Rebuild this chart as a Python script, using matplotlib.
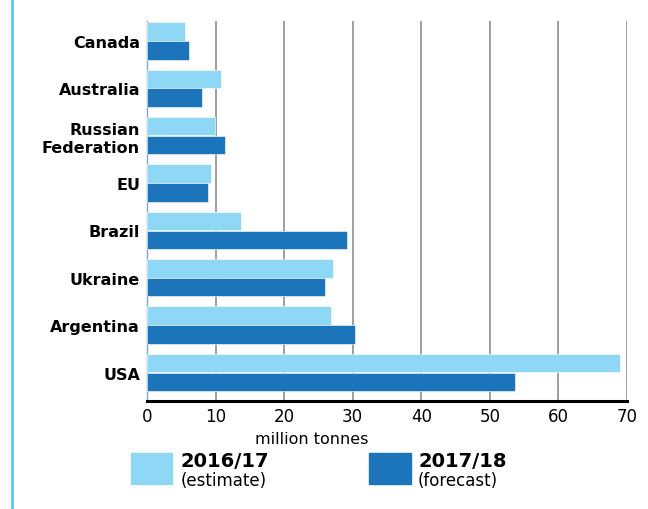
import numpy as np
import matplotlib.pyplot as plt
from matplotlib.patches import Rectangle
from matplotlib.lines import Line2D

pays = ["Canada", "Australia", "Russian\nFederation", "EU", "Brazil", "Ukraine", "Argentina", "USA"]
est_2016 = [5.5, 10.8, 9.9, 9.3, 13.7, 27.1, 26.8, 69.0]
prev_2017 = [6.1, 8.0, 11.4, 8.9, 29.1, 26.0, 30.3, 53.6]
ticks_x = [0, 10, 20, 30, 40, 50, 60, 70]

clair = "#8ed8f6"
fonce = "#1c75bb"

fig = plt.figure(figsize=(6.48, 5.1), dpi=100)
ax = fig.add_axes([0.2269, 0.2118, 0.7407, 0.7452])

y = np.arange(len(pays))
h = 0.39
ax.barh(y - 0.2, est_2016, height=h, color=clair, edgecolor="white", linewidth=0.4, zorder=3)
ax.barh(y + 0.2, prev_2017, height=h, color=fonce, edgecolor="white", linewidth=0.4, zorder=3)

ax.set_ylim(len(pays) - 0.4, -0.42)
ax.set_xlim(0, 70)
ax.set_yticks(y)
ax.set_yticklabels(pays, fontsize=11.5, fontweight="bold", linespacing=1.25)
ax.set_xticks(ticks_x)
ax.set_xticklabels([str(t) for t in ticks_x], fontsize=12)
ax.tick_params(axis="y", length=0, pad=5)
ax.tick_params(axis="x", length=0, pad=4)

ax.grid(axis="x", color="#8f8f8f", linewidth=1.2, zorder=0)
for s in ["top", "right"]:
    ax.spines[s].set_visible(False)
ax.spines["left"].set_color("#7da6d6")
ax.spines["left"].set_linewidth(1.0)
ax.spines["bottom"].set_color("black")
ax.spines["bottom"].set_linewidth(2.2)
ax.spines["bottom"].set_zorder(5)

fig.text(312 / 648, 1 - 440 / 510, "million tonnes", ha="center", va="center", fontsize=11.5)

# legende
fig.patches.append(Rectangle((131 / 648, 1 - 485 / 510), 41 / 648, 31 / 510,
                             transform=fig.transFigure, color=clair))
fig.patches.append(Rectangle((369 / 648, 1 - 485 / 510), 42 / 648, 31 / 510,
                             transform=fig.transFigure, color=fonce))
fig.text(181 / 648, 1 - 462 / 510, "2016/17", ha="left", va="center", fontsize=14, fontweight="bold")
fig.text(181 / 648, 1 - 481 / 510, "(estimate)", ha="left", va="center", fontsize=12)
fig.text(418 / 648, 1 - 462 / 510, "2017/18", ha="left", va="center", fontsize=14, fontweight="bold")
fig.text(418 / 648, 1 - 481 / 510, "(forecast)", ha="left", va="center", fontsize=12)

fig.add_artist(Line2D([12 / 648, 12 / 648], [0, 1], transform=fig.transFigure,
                      color="#5bc8f2", linewidth=2))

fig.savefig("out.png", dpi=100)
